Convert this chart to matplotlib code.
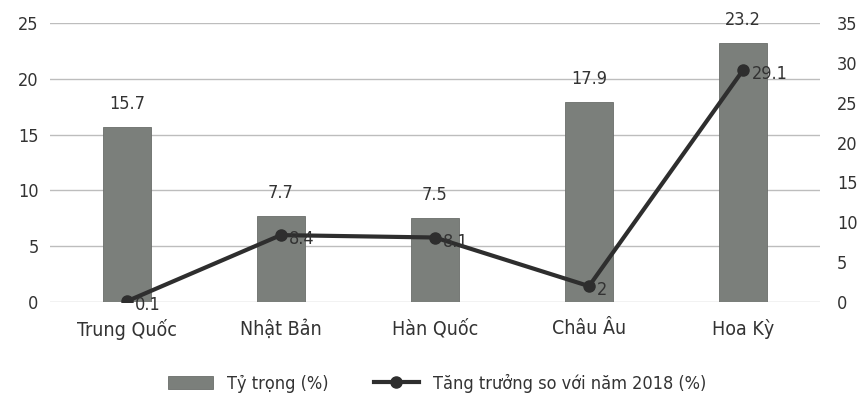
import matplotlib
matplotlib.use("Agg")
import matplotlib.pyplot as plt
import numpy as np

categories = ["Trung Quốc", "Nhật Bản", "Hàn Quốc", "Châu Âu", "Hoa Kỳ"]
ty_trong = [15.7, 7.7, 7.5, 17.9, 23.2]
tang_truong = [0.1, 8.4, 8.1, 2, 29.1]
tang_truong_labels = ["0.1", "8.4", "8.1", "2", "29.1"]

plt.rcParams['font.family'] = ['DejaVu Sans']
plt.rcParams['font.stretch'] = 'condensed'
txt = '#333333'

fig = plt.figure(figsize=(8.57, 4.11), dpi=100)
ax = fig.add_axes([0.058, 0.265, 0.899, 0.679])
ax2 = ax.twinx()

x = np.arange(len(categories))
bars = ax.bar(x, ty_trong, width=0.31, color='#7b7f7b', edgecolor='#6a6d6a',
              linewidth=0.6, label='Tỷ trọng (%)', zorder=2)
for xi, v in zip(x, ty_trong):
    ax.annotate(f"{v}", (xi, v), xytext=(0, 10), textcoords='offset points',
                ha='center', va='bottom', fontsize=13, color=txt)

ax.set_ylim(0, 25)
ax.set_yticks(range(0, 26, 5))
ax.set_xlim(-0.5, len(categories) - 0.5)
ax.set_xticks(x)
ax.set_xticklabels(categories, fontsize=14, color=txt)
ax.grid(axis='y', color='#bdbdbd', linewidth=1, zorder=0)
ax.set_axisbelow(True)

ax2.plot(x, tang_truong, color='#2e2e2e', linewidth=3, marker='o', markersize=8,
         label='Tăng trưởng so với năm 2018 (%)', zorder=3)
for xi, v, s in zip(x, tang_truong, tang_truong_labels):
    ax2.annotate(s, (xi, v), xytext=(6, -3), textcoords='offset points',
                 ha='left', va='center', fontsize=13, color=txt)
ax2.set_ylim(0, 35)
ax2.set_yticks(range(0, 36, 5))

for a in (ax, ax2):
    for sp in a.spines.values():
        sp.set_visible(False)
    a.tick_params(length=0, labelsize=13, colors=txt)
ax.tick_params(axis='y', pad=8)
ax.tick_params(axis='x', pad=12, labelsize=14)
ax2.tick_params(axis='y', pad=12)

h1, l1 = ax.get_legend_handles_labels()
h2, l2 = ax2.get_legend_handles_labels()
fig.legend(h1 + h2, l1 + l2, loc='center', bbox_to_anchor=(0.51, 0.068), ncol=2,
           frameon=False, fontsize=13, handlelength=2.5, columnspacing=2.5,
           labelcolor=txt)

fig.savefig("out.png", dpi=100)
